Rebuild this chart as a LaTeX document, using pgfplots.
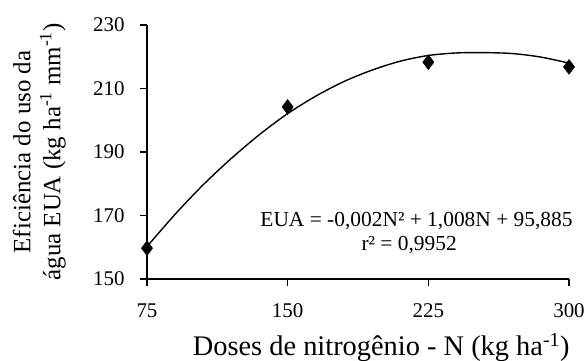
\documentclass[border=0pt]{standalone}
\usepackage{pgfplots}
\pgfplotsset{compat=1.18}
\usepackage{fontspec}
\setmainfont{Liberation Serif}
\begin{document}
\begin{tikzpicture}
\useasboundingbox (-147bp,-82bp) rectangle (437bp,279bp);
\begin{axis}[
  at={(0,0)}, anchor=south west,
  scale only axis, width=422bp, height=254bp,
  xmin=75, xmax=300, ymin=150, ymax=230,
  xtick={75,150,225,300}, ytick={150,170,190,210,230},
  axis x line*=bottom, axis y line*=left,
  axis line style={line width=1.6bp, -},
  tick style={line width=1.6bp, black},
  tick align=outside, major tick length=7bp,
  x tick label style={font=\fontsize{21}{21}\selectfont, anchor=base, yshift=-31bp},
  y tick label style={font=\fontsize{21}{21}\selectfont, xshift=-12bp},
  /pgf/number format/assume math mode=true,
  xlabel={Doses de nitrogênio - N (kg ha\textsuperscript{-1})},
  xlabel style={font=\fontsize{28.5}{28.5}\selectfont, at={(axis description cs:0.555,0)}, anchor=base, yshift=-76bp},
  ylabel={\begin{tabular}{@{}c@{}}Eficiência do uso da\\água EUA (kg ha\textsuperscript{-1} mm\textsuperscript{-1})\end{tabular}},
  ylabel style={font=\fontsize{25}{30}\selectfont, at={(axis description cs:-0.255,0.5)}, anchor=center},
  clip=false,
]
\addplot[black, line width=1.4bp, smooth] coordinates {
(75,160.2) (90,170.4) (105,179.7) (120,188.0) (135,195.5) (150,202.1)
(165,207.6) (180,212.2) (195,215.8) (210,218.6) (225,220.4) (240,221.2)
(255,221.3) (270,221.0) (285,219.9) (300,218.0)
};
\addplot[only marks, mark=diamond*, mark size=7.5bp, mark options={fill=black, draw=black}] coordinates {
(75,159.7) (150,204.2) (225,218.3) (300,216.8)
};
\node[font=\fontsize{21.5}{21.5}\selectfont, anchor=base west] at (axis cs:133.6,166.5) {EUA = -0,002N² + 1,008N + 95,885};
\node[font=\fontsize{21.5}{21.5}\selectfont, anchor=base west] at (axis cs:187.5,159.1) {r² = 0,9952};
\end{axis}
\end{tikzpicture}
\end{document}
